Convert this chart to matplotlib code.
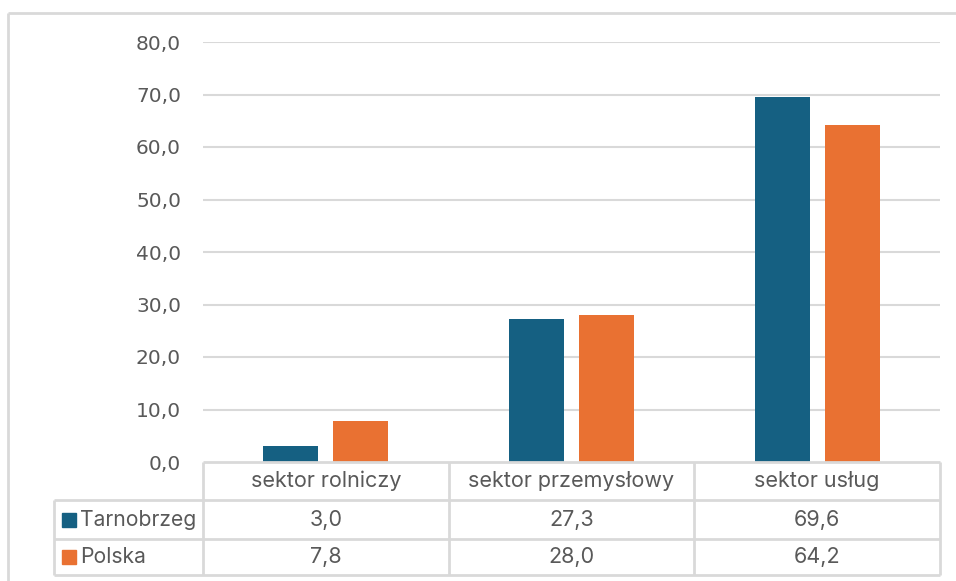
import matplotlib
matplotlib.use("Agg")
import matplotlib.pyplot as plt
from matplotlib.patches import Rectangle

categories = ["sektor rolniczy", "sektor przemysłowy", "sektor usług"]
series_names = ["Tarnobrzeg", "Polska"]
tarnobrzeg = [3.0, 27.3, 69.6]
polska = [7.8, 28.0, 64.2]
y_ticks = [0, 10, 20, 30, 40, 50, 60, 70, 80]

colors = ["#156082", "#E97132"]
grid_c = "#D9D9D9"
text_c = "#595959"

W, H = 956, 581
fig = plt.figure(figsize=(W / 100, H / 100), dpi=100)


def fx(px):
    return px / W


def fy(py):
    return 1 - py / H


# plot area in pixels
left, right, top, bottom = 203, 940, 42, 462
ax = fig.add_axes([fx(left), fy(bottom), fx(right - left), (bottom - top) / H])

def fmt(v):
    return f"{v:.1f}".replace(".", ",")

x = range(len(categories))
w = 0.224
ax.bar([i - 0.142 for i in x], tarnobrzeg, w, color=colors[0], zorder=3)
ax.bar([i + 0.142 for i in x], polska, w, color=colors[1], zorder=3)

ax.set_xlim(-0.5, len(categories) - 0.5)
ax.set_ylim(0, 80)
ax.set_yticks(y_ticks)
ax.set_yticklabels([fmt(t) for t in y_ticks], fontsize=14.5, color=text_c,
                   family="DejaVu Sans")
ax.tick_params(axis="y", length=0, pad=15.8)
ax.set_xticks([])
for t in y_ticks[1:]:
    ax.axhline(t, color=grid_c, lw=1.5, zorder=1)
for s in ax.spines.values():
    s.set_visible(False)

# overlay in pixel coordinates for the data table and frame
ov = fig.add_axes([0, 0, 1, 1], zorder=5)
ov.set_xlim(0, W)
ov.set_ylim(H, 0)
ov.axis("off")
ov.patch.set_alpha(0)

lc = dict(color=grid_c, lw=2, solid_capstyle="butt")
# outer frame
ov.plot([8.5, W], [12.5, 12.5], **lc)
ov.plot([8.5, 8.5], [12.5, H], **lc)

col_x = [left + (right - left) * k / len(categories) for k in range(len(categories) + 1)]
rows_y = [462, 500, 539, 575]
key_left = 54

ov.plot([left, right], [rows_y[0], rows_y[0]], **lc)
for yy in rows_y[1:]:
    ov.plot([key_left, right], [yy, yy], **lc)
ov.plot([key_left, key_left], [rows_y[1], rows_y[3]], **lc)
for xx in col_x:
    ov.plot([xx, xx], [rows_y[0], rows_y[3]], **lc)

tfont = dict(family="Inter", fontsize=15.5, color=text_c, va="center", ha="center")
for k, cat in enumerate(categories):
    cx = (col_x[k] + col_x[k + 1]) / 2
    ov.text(cx, (rows_y[0] + rows_y[1]) / 2, cat, **tfont)

for r, (name, vals) in enumerate(zip(series_names, [tarnobrzeg, polska])):
    cy = (rows_y[r + 1] + rows_y[r + 2]) / 2
    ov.add_patch(Rectangle((62, cy - 7), 14, 14, color=colors[r]))
    ov.text(80, cy, name, **{**tfont, "ha": "left", "fontsize": 15.2})
    for k, v in enumerate(vals):
        cx = (col_x[k] + col_x[k + 1]) / 2
        ov.text(cx, cy, fmt(v), **tfont)

fig.savefig("out.png", dpi=100)
